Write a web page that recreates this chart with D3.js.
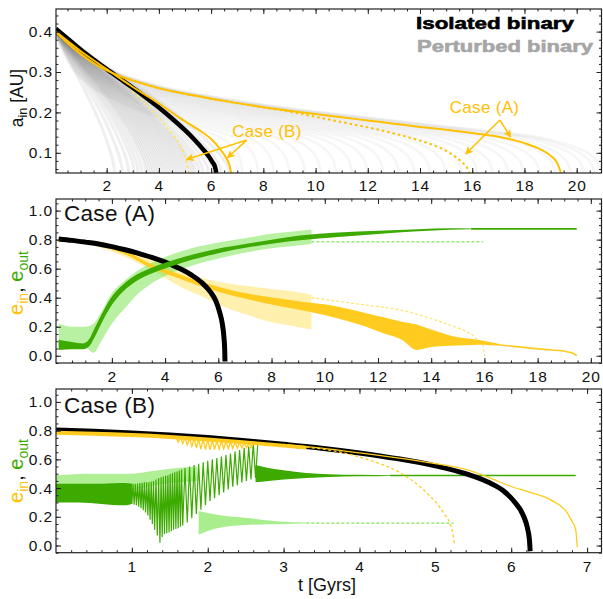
<!DOCTYPE html>
<html><head><meta charset="utf-8">
<script src="https://cdn.jsdelivr.net/npm/d3@7"></script>
<style>body{margin:0;background:#fff;} svg{display:block;font-family:'Liberation Sans',Arial,sans-serif;}</style>
</head><body><svg id="c" width="603" height="599"></svg>
<script>
// ---------------- DATA ----------------
// Panel 1: a_in [AU] vs t [Gyr]
const p1Black = [[0.05,0.407],[0.5,0.383],[1,0.356],[1.5,0.331],[2,0.307],[2.5,0.284],[3,0.261],[3.5,0.237],[4,0.212],[4.5,0.185],[5,0.156],[5.4,0.13],[5.7,0.108],[5.9,0.092],[6.05,0.077],[6.15,0.065],[6.2,0.05]];
const p1CaseASolid = [[0.05,0.4],[0.5,0.372],[1,0.345],[1.5,0.322],[2,0.304],[2.5,0.29],[3,0.279],[4,0.26],[5,0.246],[6,0.234],[7,0.223],[8,0.213],[9,0.204],[10,0.196],[11,0.188],[12,0.18],[13,0.172],[14,0.164],[15,0.157],[16,0.149],[17,0.14],[17.5,0.133],[18,0.124],[18.5,0.112],[19,0.093],[19.25,0.075],[19.4,0.05]];
const p1CaseADotted = [[0.05,0.4],[1,0.345],[2,0.304],[3,0.279],[4,0.26],[5,0.246],[6,0.234],[7,0.223],[8,0.212],[9,0.202],[10,0.189],[11,0.176],[12,0.163],[13,0.148],[14,0.13],[14.7,0.114],[15.2,0.097],[15.6,0.077],[15.8,0.063],[15.9,0.05]];
const p1CaseBSolid = [[0.05,0.4],[1,0.352],[2,0.307],[3,0.263],[4,0.222],[4.9,0.182],[5.5,0.158],[6,0.134],[6.3,0.113],[6.55,0.09],[6.7,0.07],[6.77,0.05]];
const p1CaseBDotted = [[0.05,0.405],[1,0.356],[2,0.306],[2.4,0.288],[2.8,0.265],[3.15,0.243],[3.5,0.22],[3.9,0.194],[4.25,0.168],[4.55,0.144],[4.8,0.12],[4.95,0.1],[5.07,0.075],[5.15,0.05]];
// perturbed binaries: end times read at the bottom of the fan
const fanEndsFast = [2.3,2.6,2.85,3.05,3.2,3.35,3.5,3.6,3.7,3.8,3.9,4.0,4.1,4.2,4.3,4.4,4.5,4.6,4.7,4.8,4.9,5.0,5.1,5.2,5.3,5.4,5.55,5.7,5.9,6.1,6.4,6.7];
const fanEndsSlow = [7.2,7.8,8.4,9.0,9.6,10.2,10.8,11.4,12.0,12.6,13.2,13.8,14.4,15.0,15.6,16.2,16.8,17.4,18.0,18.6,19.2,19.8,20.3,20.7,21.0];

// Panels 2 & 3: eccentricities
const eBlack = [[0,0.805],[0.5,0.795],[1,0.783],[1.5,0.77],[2,0.752],[2.5,0.73],[3,0.705],[3.5,0.678],[4,0.645],[4.5,0.605],[5,0.555],[5.4,0.5],[5.7,0.44],[5.9,0.38],[6.05,0.3],[6.15,0.22],[6.21,0.13],[6.24,0.04],[6.25,-0.04]];

// Case (A)
const aYellowBand = [[0,0.785,0.81],[1,0.772,0.795],[1.55,0.755,0.775],[2.5,0.7,0.725],[3.43,0.61,0.635],[4.4,0.54,0.57],[5.31,0.48,0.512],[6.2,0.43,0.465],[7.19,0.385,0.425],[8.1,0.35,0.4],[8.94,0.32,0.378],[10.32,0.265,0.345],[11.3,0.215,0.305],[12.2,0.155,0.265],[12.9,0.11,0.235],[13.45,0.04,0.215],[14.0,0.06,0.18],[14.7,0.068,0.14],[15.3,0.072,0.12],[15.8,0.075,0.108],[16.2,0.073,0.095],[16.6,0.068,0.08]];
const aYellowTail = [[16.6,0.074],[17.2,0.063],[17.8,0.051],[18.5,0.04],[19.1,0.028],[19.35,0.015],[19.47,0.0]];
const aYellowLightBand = [[1.5,0.75,0.79],[2.5,0.68,0.74],[3.5,0.59,0.66],[4.68,0.465,0.568],[5.5,0.4,0.53],[6.3,0.33,0.5],[7.1,0.28,0.48],[8,0.23,0.46],[8.94,0.2,0.44],[9.5,0.18,0.42]];
const aYellowLightTail = [[9.5,0.4],[10.5,0.375],[11.5,0.35],[12.84,0.315],[14.1,0.25],[14.8,0.205],[15.33,0.166],[15.6,0.135],[15.8,0.097],[15.95,0.07],[16.0,0.0]];
const aGreenBand = [[0,0.04,0.11],[0.5,0.045,0.095],[0.92,0.045,0.085],[1.15,0.065,0.115],[1.3,0.11,0.17],[1.6,0.22,0.28],[1.93,0.33,0.39],[2.3,0.42,0.47],[2.8,0.5,0.545],[3.4,0.56,0.6],[4.06,0.605,0.645],[4.7,0.645,0.68],[5.31,0.675,0.71],[6.2,0.715,0.745],[7.07,0.745,0.772],[8,0.772,0.8],[9.07,0.795,0.828],[10.5,0.818,0.85],[12,0.838,0.862],[13.5,0.857,0.872],[14.7,0.868,0.878],[15.5,0.872,0.877]];
const aGreenTail = [[15.5,0.874],[19.47,0.874]];
const aGreenLightBand = [[0,0.06,0.22],[0.5,0.07,0.2],[1,0.06,0.2],[1.3,0.02,0.22],[1.6,0.1,0.3],[2,0.22,0.43],[2.5,0.33,0.52],[3,0.43,0.59],[3.5,0.5,0.64],[4,0.55,0.68],[5,0.62,0.74],[6,0.67,0.78],[7,0.71,0.81],[8,0.74,0.84],[9,0.76,0.86],[9.5,0.77,0.87]];
const aGreenLightTail = [[9.5,0.785],[15.95,0.785]];

// Case (B)
const bYellowBand = [[0,0.772,0.8],[0.5,0.765,0.792],[1,0.755,0.783],[1.5,0.742,0.77],[2,0.725,0.752],[2.5,0.705,0.732],[3,0.682,0.708],[3.3,0.668,0.694]];
const bYellowSpikeT = [1.61,1.67,1.73,1.79,1.85,1.91,1.97,2.03,2.09,2.15,2.21,2.27,2.33,2.39,2.45,2.51,2.57];
const bYellowSpikeLo = [0.72,0.71,0.7,0.69,0.68,0.672,0.668,0.666,0.668,0.67,0.672,0.674,0.676,0.678,0.68,0.68,0.68];
const bYellowSpikeHi = [0.755,0.752,0.75,0.748,0.745,0.742,0.74,0.737,0.734,0.731,0.728,0.725,0.722,0.72,0.717,0.714,0.711];
const bYellowSolid = [[3.0,0.705],[3.5,0.678],[4,0.645],[4.5,0.61],[5,0.57],[5.42,0.527],[5.7,0.475],[6,0.411],[6.25,0.37],[6.52,0.318],[6.74,0.226],[6.8,0.17],[6.85,0.11],[6.87,-0.01]];
const bYellowDotted = [[3.3,0.685],[3.6,0.665],[4.1,0.6],[4.54,0.505],[4.89,0.365],[5.11,0.226],[5.22,0.11],[5.25,0.017]];
const bGreenBand = [[0,0.3,0.43],[0.3,0.3,0.43],[0.6,0.29,0.43],[0.9,0.28,0.435],[1.0,0.29,0.43]];
const bGreenSpikeT = [1.00,1.03,1.06,1.09,1.12,1.15,1.18,1.21,1.24,1.27,1.30,1.335,1.37,1.40,1.43,1.46,1.49,1.52,1.55,1.58,1.61,1.64,1.67,1.73,1.79,1.85,1.91,1.97,2.03,2.09,2.15,2.21,2.27,2.33,2.39,2.45,2.51,2.57,2.63];
const bGreenSpikeLo = [0.29,0.285,0.28,0.27,0.26,0.245,0.23,0.21,0.18,0.15,0.11,0.07,0.02,0.06,0.08,0.085,0.09,0.1,0.11,0.115,0.12,0.13,0.14,0.16,0.19,0.22,0.25,0.28,0.31,0.33,0.35,0.37,0.39,0.41,0.42,0.44,0.45,0.46,0.47];
const bGreenSpikeHi = [0.43,0.43,0.43,0.432,0.435,0.437,0.44,0.44,0.44,0.445,0.45,0.46,0.47,0.475,0.48,0.485,0.49,0.498,0.505,0.51,0.515,0.522,0.53,0.54,0.55,0.56,0.57,0.58,0.59,0.6,0.61,0.62,0.63,0.64,0.655,0.665,0.68,0.69,0.715];
const bGreenDecay = [[2.63,0.44,0.56],[2.8,0.45,0.54],[3.0,0.46,0.525],[3.3,0.47,0.505],[3.6,0.478,0.497],[4.0,0.482,0.492],[4.4,0.485,0.489]];
const bGreenTail = [[4.4,0.487],[6.85,0.487]];
const bGreenLightBand = [[0,0.39,0.49],[0.5,0.39,0.5],[1.0,0.39,0.5],[1.3,0.42,0.52],[1.6,0.44,0.54],[1.86,0.45,0.55]];
const bGreenLightDrop = [[1.88,0.075,0.24],[2.12,0.121,0.214],[2.56,0.144,0.19],[3.0,0.15,0.165],[3.3,0.153,0.16]];
const bGreenLightTail = [[3.3,0.156],[5.24,0.156]];

// ticks / labels
const p1XTicks = [2,4,6,8,10,12,14,16,18,20];
const p1YTicks = [0.1,0.2,0.3,0.4];
const p2XTicks = [2,4,6,8,10,12,14,16,18,20];
const eYTicks = [0.0,0.2,0.4,0.6,0.8,1.0];
const p3XTicks = [1,2,3,4,5,6,7];

// ---------------- DRAW ----------------
const svg = d3.select('#c');
const defs = svg.append('defs');
const L = 56, R = 601.5;
const YEL = '#FFC000', YELB = '#FFCB1F', YELL = '#FFE36B', GRN = '#3DAA00', GRNL = '#62E02E';
const FONT = "'Liberation Sans',Arial,sans-serif";

defs.append('marker').attr('id','arr').attr('viewBox','0 0 10 10').attr('refX',9).attr('refY',5)
  .attr('markerWidth',9).attr('markerHeight',8).attr('markerUnits','userSpaceOnUse').attr('orient','auto')
  .append('path').attr('d','M0,0 L10,5 L0,10 L2.5,5 z').attr('fill',YEL);

function panel(id, cfg){
  const x = d3.scaleLinear().domain(cfg.xd).range([L,R]);
  const y = d3.scaleLinear().domain(cfg.yd).range([cfg.bottom,cfg.top]);
  defs.append('clipPath').attr('id','clip'+id).append('rect')
    .attr('x',L).attr('y',cfg.top).attr('width',R-L).attr('height',cfg.bottom-cfg.top);
  const g = svg.append('g').attr('clip-path','url(#clip'+id+')');
  return {x,y,g,cfg};
}
function axes(p){
  const {x,y,cfg} = p;
  const ag = svg.append('g');
  const style = s => { s.select('.domain').remove(); s.selectAll('line').attr('stroke','#222').attr('stroke-width',1);
    s.selectAll('text').attr('font-size',15.5).attr('letter-spacing',0.9).attr('font-family',FONT).attr('fill','#111'); };
  ag.append('g').attr('transform',`translate(0,${cfg.bottom})`)
    .call(d3.axisBottom(x).tickValues(cfg.xt).tickSizeInner(-5).tickSizeOuter(0).tickPadding(cfg.xpad).tickFormat(d3.format('d'))).call(style);
  ag.append('g').attr('transform',`translate(0,${cfg.bottom})`)
    .call(d3.axisBottom(x).tickValues(cfg.xm).tickSizeInner(-2.5).tickSizeOuter(0).tickFormat('')).call(style);
  ag.append('g').attr('transform',`translate(0,${cfg.top})`)
    .call(d3.axisTop(x).tickValues(cfg.xt).tickSizeInner(-5).tickSizeOuter(0).tickFormat('')).call(style);
  ag.append('g').attr('transform',`translate(0,${cfg.top})`)
    .call(d3.axisTop(x).tickValues(cfg.xm).tickSizeInner(-2.5).tickSizeOuter(0).tickFormat('')).call(style);
  ag.append('g').attr('transform',`translate(${L},0)`)
    .call(d3.axisLeft(y).tickValues(cfg.yt).tickSizeInner(-5).tickSizeOuter(0).tickPadding(3).tickFormat(d3.format('.1f'))).call(style);
  ag.append('g').attr('transform',`translate(${L},0)`)
    .call(d3.axisLeft(y).tickValues(cfg.ym).tickSizeInner(-2.5).tickSizeOuter(0).tickFormat('')).call(style);
  ag.append('g').attr('transform',`translate(${R},0)`)
    .call(d3.axisRight(y).tickValues(cfg.yt).tickSizeInner(-5).tickSizeOuter(0).tickFormat('')).call(style);
  ag.append('g').attr('transform',`translate(${R},0)`)
    .call(d3.axisRight(y).tickValues(cfg.ym).tickSizeInner(-2.5).tickSizeOuter(0).tickFormat('')).call(style);
  ag.append('rect').attr('x',L).attr('y',cfg.top).attr('width',R-L).attr('height',cfg.bottom-cfg.top)
    .attr('fill','none').attr('stroke','#222').attr('stroke-width',1.2);
}
function minorRange(a,b,s){ return d3.range(Math.ceil(a/s)*s, b+1e-9, s).map(v=>+v.toFixed(4)); }

function drawLine(p, data, color, width, dash, opacity){
  const ln = d3.line().x(d=>p.x(d[0])).y(d=>p.y(d[1])).curve(d3.curveMonotoneX);
  p.g.append('path').attr('d',ln(data)).attr('fill','none').attr('stroke',color).attr('stroke-width',width)
    .attr('stroke-dasharray',dash||null).attr('stroke-opacity',opacity==null?1:opacity).attr('stroke-linecap','butt');
}
function drawBand(p, data, color, opacity){
  const ar = d3.area().x(d=>p.x(d[0])).y0(d=>p.y(d[1])).y1(d=>p.y(d[2])).curve(d3.curveMonotoneX);
  p.g.append('path').attr('d',ar(data)).attr('fill',color).attr('fill-opacity',opacity==null?1:opacity);
}
function drawSpikes(p, T, lo, hi, color, width){
  const pts = [];
  T.forEach((t,i)=>{
    const half = i>0 ? (t-T[i-1])/2 : (T[1]-T[0])/2;
    pts.push([t-half, hi[i]]); pts.push([t, lo[i]]);
  });
  pts.push([T[T.length-1]+(T[T.length-1]-T[T.length-2])/2, hi[hi.length-1]]);
  const ln = d3.line().x(d=>p.x(d[0])).y(d=>p.y(d[1]));
  p.g.append('path').attr('d',ln(pts)).attr('fill','none').attr('stroke',color).attr('stroke-width',width).attr('stroke-linejoin','miter');
}

// ---------- Panel 1 ----------
const P1 = panel(1,{top:9,bottom:173,xd:[0.06,20.95],yd:[0.05,0.456],xt:p1XTicks,xm:minorRange(0.5,20.9,0.5),yt:p1YTicks,ym:minorRange(0.06,0.45,0.02),xpad:6.5});
fanEndsSlow.forEach(T=>{
  drawLine(P1, p1CaseASolid.map(d=>[d[0]*T/19.4, d[1]]), '#8a8a8a', 2.6, null, 0.075);
});
fanEndsFast.forEach(T=>{
  drawLine(P1, p1Black.map(d=>[d[0]*T/6.2, d[1]]), '#7a7a7a', 3, null, 0.12);
});
drawLine(P1, p1CaseADotted, YEL, 2, '2.5,3');
drawLine(P1, p1CaseBDotted, YELL, 2, '2.5,3');
drawLine(P1, p1Black, '#000', 4.5);
drawLine(P1, p1CaseASolid, YEL, 2);
drawLine(P1, p1CaseBSolid, YEL, 2);
axes(P1);

const arrowsA = {from:[17.06,0.181], to:[[17.47,0.139],[15.75,0.097]]};
const arrowsB = {from:[7.36,0.1315], to:[[6.63,0.0876],[5.06,0.0836]]};
[arrowsA, arrowsB].forEach(a=>{
  a.to.forEach(t=>{
    svg.append('line').attr('x1',P1.x(a.from[0])).attr('y1',P1.y(a.from[1])).attr('x2',P1.x(t[0])).attr('y2',P1.y(t[1]))
      .attr('stroke',YEL).attr('stroke-width',1.5).attr('marker-end','url(#arr)');
  });
});
svg.append('text').attr('x',P1.x(16.47)).attr('y',P1.y(0.199)).attr('text-anchor','middle')
  .attr('font-size',17).attr('letter-spacing',0.3).attr('fill',YEL).text('Case (A)');
svg.append('text').attr('x',P1.x(8.14)).attr('y',P1.y(0.138)).attr('text-anchor','middle')
  .attr('font-size',17).attr('letter-spacing',0.3).attr('fill',YEL).text('Case (B)');
svg.append('text').attr('x',416).attr('y',29).attr('font-size',17).attr('font-weight','bold')
  .attr('stroke','#000').attr('stroke-width',0.6).attr('textLength',158).attr('lengthAdjust','spacingAndGlyphs').text('Isolated binary');
svg.append('text').attr('x',417).attr('y',52).attr('font-size',17).attr('font-weight','bold').attr('fill','#A6A6A6')
  .attr('stroke','#A6A6A6').attr('stroke-width',0.6).attr('textLength',176).attr('lengthAdjust','spacingAndGlyphs').text('Perturbed binary');
const yl1 = svg.append('text').attr('transform','translate(23,98) rotate(-90)').attr('text-anchor','middle').attr('font-size',17.5).attr('fill','#111');
yl1.append('tspan').text('a');
yl1.append('tspan').attr('font-size',12.5).attr('dy',4).text('in');
yl1.append('tspan').attr('dy',-4).text(' [AU]');

// ---------- Panel 2 ----------
const P2 = panel(2,{top:199,bottom:363,xd:[-0.1,20.4],yd:[-0.05,1.08],xt:p2XTicks,xm:minorRange(0.5,20.3,0.5),yt:eYTicks,ym:minorRange(-0.05,1.08,0.05),xpad:7.5});
drawBand(P2, aYellowLightBand, YELL, 0.55);
drawLine(P2, aYellowLightTail, YELL, 1.2, '3,2');
drawBand(P2, aGreenLightBand, GRNL, 0.45);
drawLine(P2, aGreenLightTail, GRNL, 1, '3,2');
drawBand(P2, aYellowBand, YELB, 1);
drawLine(P2, aYellowTail, YELB, 1.6);
drawLine(P2, eBlack, '#000', 5);
drawBand(P2, aGreenBand, GRN, 1);
drawLine(P2, aGreenTail, GRN, 1.8);
axes(P2);
svg.append('text').attr('x',64).attr('y',221).attr('font-size',22.5).attr('letter-spacing',0.3).attr('fill','#111').text('Case (A)');

// ---------- Panel 3 ----------
const P3 = panel(3,{top:389,bottom:552.7,xd:[0,7.19],yd:[-0.05,1.09],xt:p3XTicks,xm:minorRange(0.2,7.1,0.2),yt:eYTicks,ym:minorRange(-0.05,1.08,0.05),xpad:8});
drawBand(P3, bGreenLightBand, GRNL, 0.5);
drawBand(P3, bGreenLightDrop, GRNL, 0.55);
drawLine(P3, bGreenLightTail, GRNL, 1, '3,2');
drawBand(P3, bGreenBand, GRN, 1);
drawSpikes(P3, bGreenSpikeT, bGreenSpikeLo, bGreenSpikeHi, GRN, 1.2);
drawBand(P3, bGreenDecay, GRN, 1);
drawLine(P3, bGreenTail, GRN, 1.5);
drawLine(P3, eBlack, '#000', 5);
drawSpikes(P3, bYellowSpikeT, bYellowSpikeLo, bYellowSpikeHi, YELB, 1.3);
drawBand(P3, bYellowBand, YELB, 1);
drawLine(P3, bYellowDotted, YELB, 1.3, '3,2.5');
drawLine(P3, bYellowSolid, YELB, 1.3);
axes(P3);
svg.append('text').attr('x',64).attr('y',412.7).attr('font-size',22.5).attr('letter-spacing',0.3).attr('fill','#111').text('Case (B)');

[283,471].forEach(cy=>{
  const t = svg.append('text').attr('transform',`translate(23,${cy}) rotate(-90)`).attr('text-anchor','middle').attr('font-size',20);
  t.append('tspan').attr('fill',YEL).text('e');
  t.append('tspan').attr('fill',YEL).attr('font-size',14).attr('dy',5).text('in');
  t.append('tspan').attr('fill','#111').attr('dy',-5).text(', ');
  t.append('tspan').attr('fill',GRN).text('e');
  t.append('tspan').attr('fill',GRN).attr('font-size',14).attr('dy',5).text('out');
});
svg.append('text').attr('x',327).attr('y',591).attr('text-anchor','middle').attr('font-size',18).attr('fill','#111').text('t [Gyrs]');
</script></body></html>
